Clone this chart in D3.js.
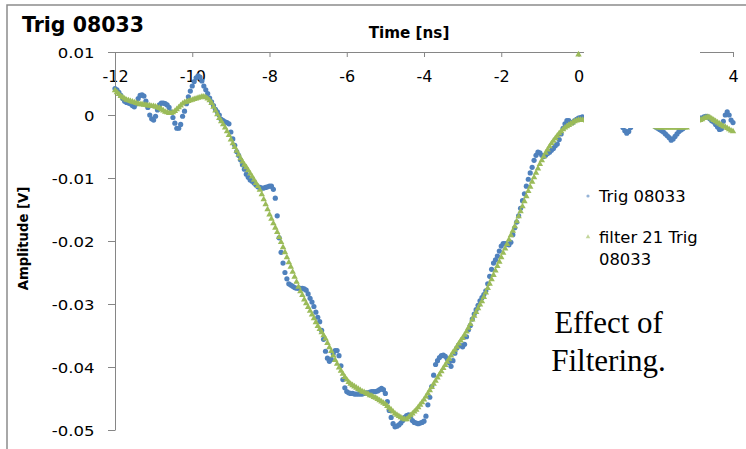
<!DOCTYPE html>
<html>
<head>
<meta charset="utf-8">
<script src="https://cdn.jsdelivr.net/npm/d3@7"></script>
<style>
  html, body { margin: 0; padding: 0; background: #fff; }
  svg { display: block; }
</style>
</head>
<body>
<svg id="chart" width="746" height="449"></svg>
<script>
// Sampling grid of the scope trace (ns)
const timeStart = -12;
const timeStep = 0.05;

// Raw trace "Trig 08033", amplitude in mV, one row per nanosecond (20 samples)
const rawMilliVolts = [
  4.2, 4.0, 3.6, 3.1, 2.6, 2.2, 2.0, 1.9, 1.8, 1.5, 1.3, 1.8, 2.6, 3.1, 3.2, 3.0, 2.2, 1.2, 0.0, -0.6,
  -0.8, -0.2, 0.8, 1.6, 1.9, 1.9, 1.8, 1.6, 1.2, 0.5, -0.4, -1.3, -2.1, -2.1, -1.5, -0.2, 0.6, 1.8, 2.9, 3.8,
  4.6, 5.3, 5.9, 6.2, 6.0, 5.4, 4.6, 4.0, 3.4, 2.7, 2.1, 1.5, 0.9, 0.5, 0.0, -0.7, -0.9, -1.1, -1.2, -1.4,
  -2.7, -3.8, -4.8, -5.8, -6.4, -7.1, -7.9, -8.6, -9.4, -9.9, -10.3, -10.5, -10.8, -11.1, -11.4, -11.5, -11.6, -11.6, -11.5, -11.4,
  -11.3, -11.3, -11.8, -13.2, -16.0, -19.5, -21.8, -23.5, -25.0, -26.0, -26.8, -27.0, -27.2, -27.4, -27.5, -27.5, -27.5, -27.5, -27.6, -27.8,
  -28.4, -29.1, -29.7, -30.4, -31.3, -32.1, -32.8, -34.2, -35.6, -37.5, -38.6, -39.1, -38.8, -37.9, -37.4, -37.4, -38.2, -39.8, -42.0, -43.3,
  -43.9, -44.1, -44.2, -44.2, -44.3, -44.3, -44.3, -44.3, -44.3, -44.2, -44.1, -44.1, -44.0, -43.9, -43.9, -43.9, -43.8, -43.6, -43.4, -43.6,
  -44.2, -45.5, -46.9, -48.0, -49.0, -49.5, -49.4, -49.2, -48.9, -48.5, -48.0, -47.7, -47.6, -47.9, -48.5, -48.8, -48.9, -49.0, -48.9, -48.8,
  -48.6, -47.8, -46.0, -44.8, -43.1, -41.3, -39.6, -39.0, -38.5, -38.2, -38.1, -38.3, -38.7, -39.3, -39.9, -39.0, -37.8, -37.0, -36.5, -36.6,
  -36.8, -36.4, -35.2, -34.1, -33.4, -32.4, -31.6, -30.9, -30.2, -29.5, -29.0, -28.5, -27.9, -26.8, -25.6, -24.5, -23.5, -23.0, -22.4, -21.6,
  -20.8, -20.4, -20.4, -20.5, -20.6, -20.2, -19.0, -17.9, -17.0, -16.0, -14.8, -13.6, -12.5, -11.3, -10.2, -9.2, -8.3, -7.2, -6.4, -5.9,
  -6.0, -6.4, -6.6, -6.4, -6.1, -5.9, -5.6, -5.3, -4.9, -4.6, -3.9, -3.0, -2.1, -1.4, -0.9, -0.9, -1.2, -1.2, -0.9, -0.7,
  -0.5, -0.4, -0.3, -0.5, -0.8, -1.0, -1.1, -0.9, -0.6, -0.4, -0.5, -0.8, -1.1, -1.2, -1.0, -0.7, -0.5, -0.6, -0.9, -1.2,
  -1.4, -1.3, -1.5, -2.0, -2.5, -2.9, -2.6, -2.0, -1.5, -1.1, -0.8, -0.7, -0.8, -1.0, -1.2, -1.3, -1.2, -1.1, -1.2, -1.5,
  -1.9, -2.1, -2.3, -2.5, -2.7, -3.0, -3.3, -3.6, -4.0, -3.8, -3.4, -3.0, -2.6, -2.4, -2.2, -1.9, -1.6, -1.2, -0.9, -0.7,
  -0.6, -0.5, -0.4, -0.5, -0.5, -0.3, -0.2, -0.3, -0.6, -0.9, -1.1, -1.5, -1.9, -2.3, -2.2, -1.0, 0.0, 0.5, 0.0, -0.8,
  -1.2
];

// 21-tap filtered trace, amplitude in mV, same grid
const filteredMilliVolts = [
  3.9, 3.6, 3.3, 3.0, 2.8, 2.6, 2.4, 2.3, 2.2, 2.1, 2.0, 1.9, 1.8, 1.7, 1.7, 1.6, 1.6, 1.5, 1.5, 1.4,
  1.4, 1.3, 1.2, 1.1, 0.9, 0.7, 0.5, 0.4, 0.3, 0.3, 0.4, 0.6, 0.9, 1.2, 1.5, 1.8, 2.0, 2.1, 2.2, 2.3,
  2.4, 2.5, 2.6, 2.7, 2.8, 2.9, 2.9, 2.8, 2.6, 2.3, 1.9, 1.3, 0.7, 0.1, -0.5, -1.0, -1.5, -2.0, -2.6, -3.2,
  -3.9, -4.5, -5.1, -5.7, -6.3, -6.9, -7.4, -7.9, -8.3, -8.8, -9.3, -9.8, -10.3, -10.8, -11.3, -11.9, -12.6, -13.4, -14.2, -15.0,
  -15.8, -16.5, -17.2, -17.9, -18.6, -19.4, -20.2, -21.0, -21.8, -22.6, -23.4, -24.1, -24.9, -25.7, -26.5, -27.3, -28.0, -28.6, -29.3, -29.9,
  -30.5, -31.1, -31.7, -32.3, -32.9, -33.5, -34.0, -34.5, -35.0, -35.5, -36.2, -36.9, -37.5, -38.2, -38.9, -39.5, -40.1, -40.6, -41.1, -41.6,
  -42.0, -42.4, -42.7, -42.9, -43.1, -43.3, -43.5, -43.7, -43.9, -44.0, -44.2, -44.3, -44.5, -44.6, -44.8, -44.9, -45.1, -45.3, -45.5, -45.7,
  -45.9, -46.2, -46.5, -46.8, -47.1, -47.4, -47.6, -47.8, -48.0, -48.2, -48.3, -48.3, -48.0, -47.7, -47.4, -47.1, -46.8, -46.4, -46.0, -45.6,
  -45.2, -44.7, -44.2, -43.7, -43.2, -42.7, -42.2, -41.7, -41.2, -40.7, -40.2, -39.7, -39.2, -38.7, -38.2, -37.7, -37.3, -36.8, -36.3, -35.8,
  -35.4, -34.9, -34.4, -33.8, -33.2, -32.5, -31.9, -31.3, -30.7, -30.1, -29.6, -28.9, -28.2, -27.5, -26.8, -26.1, -25.4, -24.7, -24.0, -23.3,
  -22.6, -21.9, -21.2, -20.5, -19.8, -19.1, -18.4, -17.7, -16.9, -16.1, -15.3, -14.5, -13.7, -12.9, -12.1, -11.4, -10.6, -9.9, -9.2, -8.5,
  -7.8, -7.2, -6.6, -6.0, -5.5, -5.0, -4.5, -4.1, -3.7, -3.3, -2.9, -2.6, -2.3, -2.0, -1.8, -1.6, -1.4, -1.2, -1.0, -0.9,
  -0.8, -0.8, -0.8, -0.8, -0.9, -0.9, -0.9, -1.0, -1.0, -1.0, -1.1, -1.1, -1.1, -1.2, -1.2, -1.2, -1.3, -1.3, -1.3, -1.3,
  -1.4, -1.4, -1.4, -1.4, -1.4, -1.4, -1.4, -1.4, -1.4, -1.4, -1.4, -1.4, -1.4, -1.4, -1.4, -1.4, -1.4, -1.4, -1.5, -1.7,
  -1.9, -2.0, -2.0, -2.0, -2.0, -2.0, -2.0, -2.0, -2.0, -2.0, -2.0, -2.0, -2.0, -2.0, -2.0, -2.0, -2.0, -1.7, -1.5, -1.3,
  -1.1, -1.0, -0.9, -0.8, -0.7, -0.5, -0.4, -0.3, -0.4, -0.6, -0.8, -1.0, -1.2, -1.4, -1.6, -1.8, -1.9, -2.1, -2.3, -2.5,
  -2.6
];

// Lone filter sample that sits at the top of the range
const filterOutlier = [{ t: 0, mv: 9.6 }];

const seriesNames = ["Trig 08033", "filter 21 Trig 08033"];
const xTicks = [-12, -10, -8, -6, -4, -2, 0, 2, 4];
const yTicks = [0.01, 0, -0.01, -0.02, -0.03, -0.04, -0.05];

const BLUE = "#4f81bd";
const GREEN = "#9bbb59";
const AXIS = "#868686";

const toVolts = mv => mv / 1000;
const raw = rawMilliVolts.map((mv, i) => ({ t: timeStart + i * timeStep, v: toVolts(mv) }));
const filtered = filteredMilliVolts.map((mv, i) => ({ t: timeStart + i * timeStep, v: toVolts(mv) }))
  .concat(filterOutlier.map(d => ({ t: d.t, v: toVolts(d.mv) })));

const svg = d3.select("#chart");

const x = d3.scaleLinear().domain([-12, 4]).range([115, 733]);
const y = d3.scaleLinear().domain([-0.05, 0.01]).range([430, 52]);

// outer frame
svg.append("path")
  .attr("d", "M7,449 V5 H746")
  .attr("fill", "none").attr("stroke", "#8c8c8c").attr("stroke-width", 1.5);

// title
svg.append("text")
  .attr("x", 22).attr("y", 32)
  .attr("font-family", "DejaVu Sans").attr("font-weight", "bold").attr("font-size", 20.5)
  .text("Trig 08033");

// x axis along the top edge, labels below it
const gx = svg.append("g").attr("transform", `translate(0,${y(0.01)})`)
  .call(d3.axisBottom(x).tickValues(xTicks).tickSize(5).tickSizeOuter(0).tickFormat(d => d));
gx.select(".domain").attr("stroke", AXIS);
gx.selectAll(".tick line").attr("stroke", AXIS);
gx.selectAll(".tick text")
  .attr("y", 29.7).attr("dy", null)
  .attr("font-family", "DejaVu Sans").attr("font-size", 16).attr("fill", "#000")
  .text(d => d < 0 ? "-" + Math.abs(d) : String(d));

svg.append("text")
  .attr("x", 409).attr("y", 38)
  .attr("text-anchor", "middle")
  .attr("font-family", "DejaVu Sans").attr("font-weight", "bold").attr("font-size", 15.2)
  .text("Time [ns]");

// y axis
const gy = svg.append("g").attr("transform", `translate(${x(-12)},0)`)
  .call(d3.axisLeft(y).tickValues(yTicks).tickSize(7).tickSizeOuter(0)
    .tickFormat(d => d === 0 ? "0" : d3.format(".2f")(d).replace("−", "-")));
gy.select(".domain").attr("stroke", AXIS);
gy.selectAll(".tick line").attr("stroke", AXIS);
gy.selectAll(".tick text")
  .attr("x", 0).attr("dy", "0.36em")
  .attr("transform", "translate(-20.5,0) scale(1.14,1)")
  .attr("text-anchor", "end")
  .attr("font-family", "DejaVu Sans").attr("font-size", 14.5).attr("fill", "#000");

svg.append("text")
  .attr("transform", "translate(27.5,238.5) rotate(-90)")
  .attr("text-anchor", "middle")
  .attr("font-family", "DejaVu Sans").attr("font-weight", "bold").attr("font-size", 13.2)
  .text("Amplitude [V]");

// raw samples
svg.append("g").selectAll("circle")
  .data(raw).join("circle")
  .attr("cx", d => x(d.t)).attr("cy", d => y(d.v))
  .attr("r", 2.6).attr("fill", BLUE);

// filtered samples
const tri = d3.symbol().type(d3.symbolTriangle).size(18);
svg.append("g").selectAll("path")
  .data(filtered).join("path")
  .attr("transform", d => `translate(${x(d.t)},${y(d.v)})`)
  .attr("d", tri).attr("fill", GREEN);

// blank panel over the upper right of the plot
svg.append("rect")
  .attr("x", 584).attr("y", 40).attr("width", 116).attr("height", 88)
  .attr("fill", "#fff");

// legend
const legend = svg.append("g").attr("font-family", "DejaVu Sans").attr("font-size", 16.4).attr("fill", "#000");
legend.append("circle").attr("cx", 588).attr("cy", 196).attr("r", 1.6)
  .attr("fill", BLUE).attr("opacity", 0.6);
legend.append("text").attr("x", 599).attr("y", 201.7).text(seriesNames[0]);
legend.append("path").attr("transform", "translate(588,237)")
  .attr("d", d3.symbol().type(d3.symbolTriangle).size(9)).attr("fill", GREEN).attr("opacity", 0.6);
const lt = legend.append("text").attr("x", 599).attr("y", 243.3);
lt.append("tspan").attr("x", 599).text("filter 21 Trig");
lt.append("tspan").attr("x", 599).attr("dy", 21.7).text("08033");

// annotation
const note = svg.append("text")
  .attr("text-anchor", "middle")
  .attr("font-family", "Liberation Serif").attr("font-size", 31).attr("fill", "#000");
note.append("tspan").attr("x", 608.5).attr("y", 332.7).text("Effect of");
note.append("tspan").attr("x", 608.5).attr("y", 371).text("Filtering.");
</script>
</body>
</html>
